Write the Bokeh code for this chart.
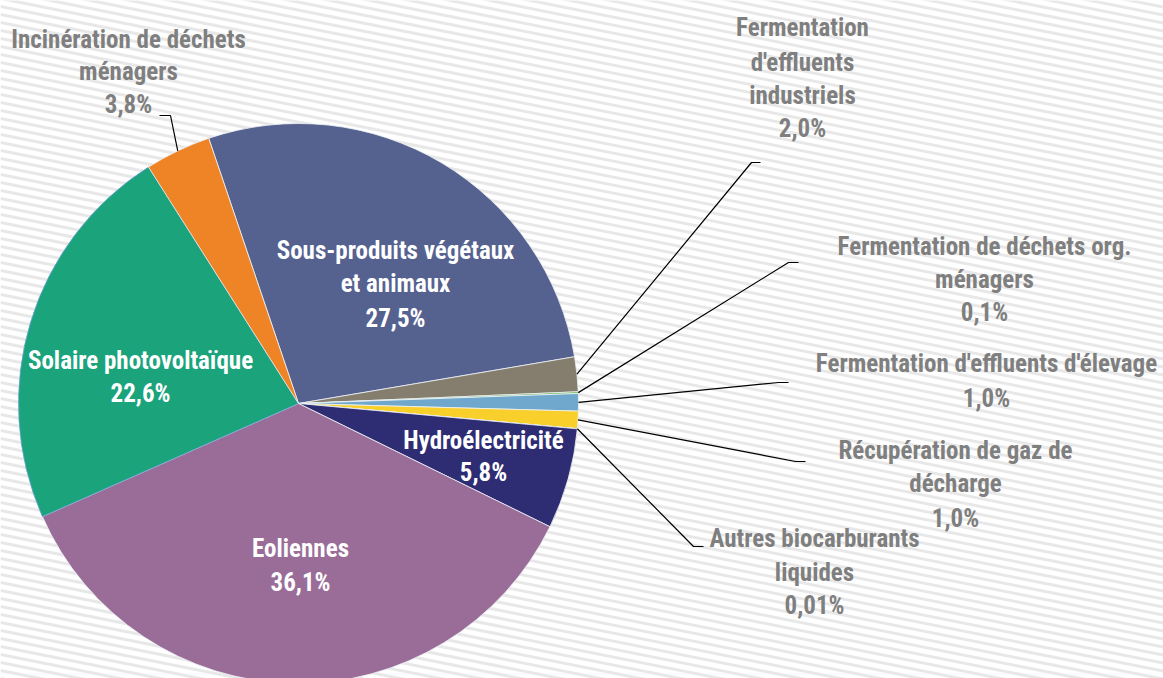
import numpy as np
from bokeh.plotting import figure
from bokeh.models import Range1d
from bokeh.core.properties import value
from bokeh.embed import file_html
from bokeh.resources import INLINE

# ---------------- data ----------------
categories = [
    "Sous-produits végétaux et animaux",
    "Fermentation d'effluents industriels",
    "Fermentation de déchets org. ménagers",
    "Fermentation d'effluents d'élevage",
    "Récupération de gaz de décharge",
    "Autres biocarburants liquides",
    "Hydroélectricité",
    "Eoliennes",
    "Solaire photovoltaïque",
    "Incinération de déchets ménagers",
]
values = [27.5, 2.0, 0.1, 1.0, 1.0, 0.01, 5.8, 36.1, 22.6, 3.8]
pct_labels = ["27,5%", "2,0%", "0,1%", "1,0%", "1,0%", "0,01%", "5,8%", "36,1%", "22,6%", "3,8%"]
label_lines = [
    ["Sous-produits végétaux", "et animaux"],
    ["Fermentation", "d'effluents", "industriels"],
    ["Fermentation de déchets org.", "ménagers"],
    ["Fermentation d'effluents d'élevage"],
    ["Récupération de gaz de", "décharge"],
    ["Autres biocarburants", "liquides"],
    ["Hydroélectricité"],
    ["Eoliennes"],
    ["Solaire photovoltaïque"],
    ["Incinération de déchets", "ménagers"],
]
colors = ["#55618F", "#857D6E", "#6AB04A", "#6FA8CC", "#F9CF2B",
          "#E8B020", "#2E2C72", "#9A6D98", "#1BA37C", "#EE8425"]

# ---------------- layout (reference pixel coords) ----------------
WIDTH, HEIGHT = 1163, 678
def Y(py):
    return HEIGHT - py

CX, CY, R = 298, Y(403), 280
START_DEG = 108.7  # first slice starts here, going clockwise

inside = [True, False, False, False, False, False, True, True, True, False]
text_pos = [
    (395, [250, 283, 318]),
    (802, [27, 62, 95, 128]),
    (984, [246, 279, 312]),
    (986, [363, 398]),
    (955, [450, 483, 518]),
    (814, [538, 572, 605]),
    (483, [440, 472]),
    (300, [548, 582]),
    (140, [360, 393]),
    (128, [39, 71, 104]),
]
# leader elbows: (elbow point, end point) in reference pixels
leaders = {
    1: [(751, 162), (760, 162)],
    2: [(788, 262), (798, 262)],
    3: [(778, 382), (788, 382)],
    4: [(795, 461), (805, 461)],
    5: [(693, 546), (703, 546)],
    9: [(170, 115), (159, 115)],
}

FONT = value("Roboto Condensed")
FS = "25px"

p = figure(width=WIDTH, height=HEIGHT, x_range=Range1d(0, WIDTH), y_range=Range1d(0, HEIGHT),
           output_backend="svg", toolbar_location=None, min_border=0)
p.axis.visible = False
p.grid.visible = False
p.outline_line_color = None
p.background_fill_color = "white"
p.border_fill_color = "white"

# background stripes
slope = 0.2
cs = np.arange(0, HEIGHT + 260, 8)
p.segment(x0=0, y0=cs, x1=WIDTH, y1=cs - slope * WIDTH, line_color="#E8E8E8", line_width=3)

# pie
total = sum(values)
cum = np.cumsum(values)
start_deg = START_DEG - 360 * (cum - np.array(values)) / total
end_deg = START_DEG - 360 * cum / total
line_cols = ["#EEF2F8"] * len(values)
line_cols[8] = "#6A9FD6"
p.wedge(x=CX, y=CY, radius=R,
        start_angle=np.radians(end_deg), end_angle=np.radians(start_deg),
        fill_color=colors, line_color=line_cols, line_width=0.8)

# leader lines
xs, ys = [], []
for i, pts in leaders.items():
    mid = np.radians((start_deg[i] + end_deg[i]) / 2)
    x0 = CX + R * np.cos(mid)
    y0 = CY + R * np.sin(mid)
    xs.append([x0] + [pt[0] for pt in pts])
    ys.append([y0] + [Y(pt[1]) for pt in pts])
p.multi_line(xs=xs, ys=ys, line_color="black", line_width=1.2)

# labels
tx, ty, tt, tc = [], [], [], []
for i in range(len(categories)):
    lines = label_lines[i] + [pct_labels[i]]
    x, ylist = text_pos[i]
    for ln, yy in zip(lines, ylist):
        tx.append(x)
        ty.append(Y(yy))
        tt.append(ln)
        tc.append("white" if inside[i] else "#7F7F7F")
p.text(x=tx, y=ty, text=tt, text_color=tc, text_font=FONT, text_font_size=FS,
       text_font_style="bold", text_align="center", text_baseline="middle")

open("out.html", "w").write(file_html(p, INLINE))
